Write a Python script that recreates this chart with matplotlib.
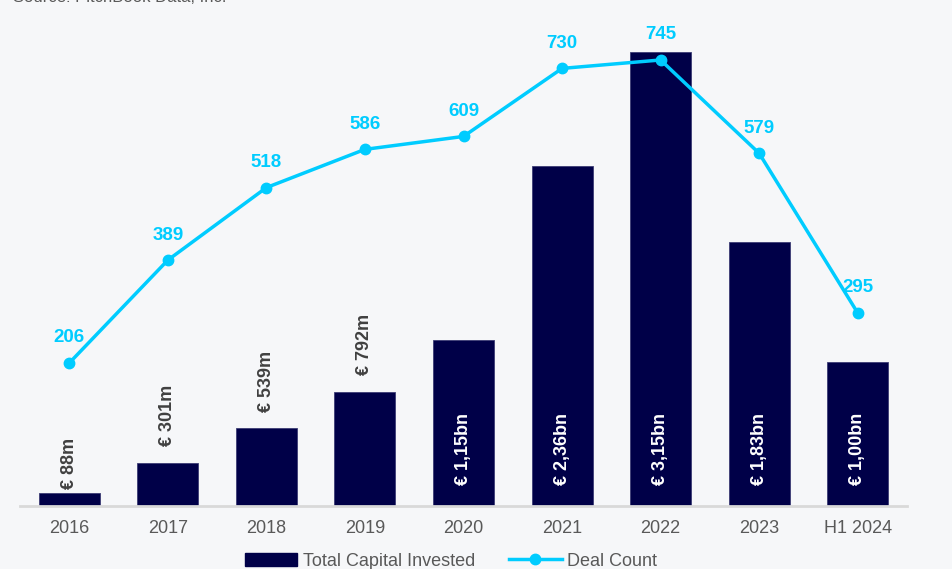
#!/usr/bin/env python3
"""Capital invested vs deal count, 2016 - H1 2024."""

import matplotlib

matplotlib.use("Agg")
import matplotlib.pyplot as plt
from matplotlib.lines import Line2D
from matplotlib.patches import Patch

plt.rcParams["font.family"] = ["Liberation Sans", "DejaVu Sans"]

# data
periods = ["2016", "2017", "2018", "2019", "2020", "2021", "2022", "2023", "H1 2024"]
capital_bn = [0.088, 0.301, 0.539, 0.792, 1.15, 2.36, 3.15, 1.83, 1.00]
capital_labels = ["€ 88m", "€ 301m", "€ 539m", "€ 792m", "€ 1,15bn",
                  "€ 2,36bn", "€ 3,15bn", "€ 1,83bn", "€ 1,00bn"]
deal_count = [206, 389, 518, 586, 609, 730, 745, 579, 295]

BAR = "#000048"
CYAN = "#00CCFF"
GREY = "#595959"
BG = "#F6F7F9"

fig = plt.figure(figsize=(9.52, 5.69), dpi=100, facecolor=BG)
ax = fig.add_axes([20 / 952, 63 / 569, 887 / 952, 466 / 569], facecolor=BG)
ax2 = ax.twinx()

x = list(range(len(periods)))
bars = ax.bar(x, capital_bn, width=0.62, color=BAR, edgecolor="#3c3c74",
              linewidth=0.6, zorder=2)
ax.set_xlim(-0.5, len(periods) - 0.5)
ax.set_ylim(0, 466 / 144)
ax.set_xticks(x)
ax.set_xticklabels(periods, fontsize=13, color=GREY)
ax.tick_params(axis="x", length=0, pad=10)
ax.set_yticks([])
for side in ("top", "right", "left"):
    ax.spines[side].set_visible(False)
ax.spines["bottom"].set_color("#D9D9D9")
ax.spines["bottom"].set_linewidth(2)

# capital labels: small bars get the label above, big bars inside at the base
outside_gap = [3, 12, 12, 12]
for i, (bar, lab) in enumerate(zip(bars, capital_labels)):
    cx = bar.get_x() + bar.get_width() / 2
    if i < len(outside_gap):
        ax.annotate(lab, (cx, bar.get_height()), xytext=(0, outside_gap[i]),
                    textcoords="offset points", rotation=90, ha="center",
                    va="bottom", fontsize=13, fontweight="bold", color="#404040")
    else:
        ax.annotate(lab, (cx, 0), xytext=(0, 15), textcoords="offset points",
                    rotation=90, ha="center", va="bottom", fontsize=13,
                    fontweight="bold", color="white")

# deal count on the secondary axis
ax2.plot(x, deal_count, color=CYAN, linewidth=2.5, marker="o", markersize=7.5,
         zorder=3)
ax2.set_ylim(206 - 143 / 0.5622, 206 + 323 / 0.5622)
ax2.set_yticks([])
for side in ("top", "right", "left", "bottom"):
    ax2.spines[side].set_visible(False)
for xi, v in zip(x, deal_count):
    ax2.annotate(str(v), (xi, v), xytext=(0, 18), textcoords="offset points",
                 ha="center", va="center", fontsize=13.5, fontweight="bold",
                 color=CYAN)

handles = [Patch(facecolor=BAR, edgecolor=BAR),
           Line2D([], [], color=CYAN, linewidth=2.5, marker="o", markersize=7.5)]
fig.legend(handles, ["Total Capital Invested", "Deal Count"], loc="center",
           bbox_to_anchor=(451 / 952, 1 - 561 / 569), ncol=2, frameon=False,
           fontsize=13, labelcolor=GREY, handlelength=2.9, handleheight=0.7,
           handletextpad=0.3, columnspacing=1.9)

fig.text(13 / 952, 1 - 1.5 / 569, "Source: PitchBook Data, Inc.", fontsize=12,
         color=GREY, ha="left", va="baseline")

fig.savefig("out.png", dpi=100, facecolor=BG)
